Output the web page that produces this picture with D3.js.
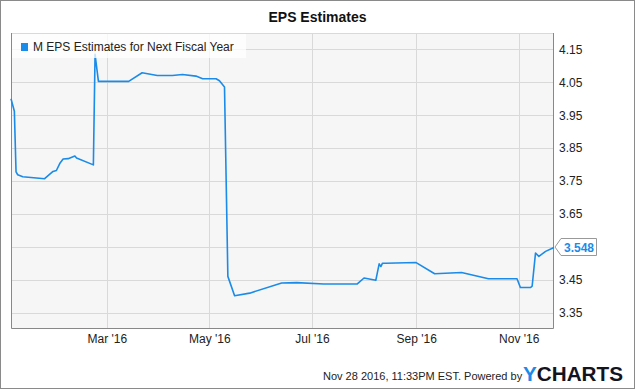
<!DOCTYPE html>
<html>
<head>
<meta charset="utf-8">
<script src="https://cdn.jsdelivr.net/npm/d3@7"></script>
<style>
  body { margin: 0; background: #fff; }
  svg { display: block; font-family: "Liberation Sans", Arial, sans-serif; }
</style>
</head>
<body>
<svg id="chart" width="635" height="389"></svg>
<script>
  // EPS estimate history
  var dates = ['2016-01-04', '2016-01-06', '2016-01-07', '2016-01-08', '2016-01-11', '2016-01-24',
               '2016-01-29', '2016-01-31', '2016-02-02', '2016-02-04', '2016-02-07', '2016-02-11',
               '2016-02-12', '2016-02-22', '2016-02-23', '2016-02-25', '2016-03-14', '2016-03-22',
               '2016-03-31', '2016-04-09', '2016-04-15', '2016-04-23', '2016-04-27', '2016-05-05',
               '2016-05-07', '2016-05-10', '2016-05-12', '2016-05-16', '2016-05-25', '2016-06-13',
               '2016-06-22', '2016-07-08', '2016-07-28', '2016-08-01', '2016-08-08', '2016-08-10',
               '2016-08-11', '2016-08-12', '2016-08-14', '2016-09-01', '2016-09-12', '2016-09-28',
               '2016-10-14', '2016-10-31', '2016-11-02', '2016-11-08', '2016-11-09', '2016-11-11',
               '2016-11-13', '2016-11-17', '2016-11-22']
  var values = [4.000, 3.962, 3.778, 3.769, 3.763, 3.757,
                3.779, 3.782, 3.803, 3.817, 3.818, 3.826,
                3.820, 3.799, 4.135, 4.053, 4.053, 4.079,
                4.071, 4.071, 4.074, 4.069, 4.061, 4.061,
                4.055, 4.036, 3.460, 3.401, 3.409, 3.440,
                3.441, 3.437, 3.437, 3.455, 3.448, 3.498,
                3.490, 3.500, 3.500, 3.502, 3.468, 3.472,
                3.453, 3.453, 3.426, 3.426, 3.430, 3.531,
                3.521, 3.536, 3.548]

  var yTicks = [3.35, 3.45, 3.55, 3.65, 3.75, 3.85, 3.95, 4.05, 4.15]
  var xTicks = ['2016-03-01', '2016-05-01', '2016-07-01', '2016-09-01', '2016-11-01']
  var seriesName = 'M EPS Estimates for Next Fiscal Year'
  var title = 'EPS Estimates'
  var footer = 'Nov 28 2016, 11:33PM EST.  Powered by'

  var parse = d3.timeParse('%Y-%m-%d')
  var data = dates.map(function(d, i) { return { date: parse(d), value: values[i] } })

  var lineColour = '#1a8be8'
  var margins = { top: 33, left: 11, right: 81, bottom: 60 },
      W = 635, H = 389,
      width = W - margins.left - margins.right,
      height = H - margins.top - margins.bottom

  var svg = d3.select('#chart')

  // outer frame
  svg.append('rect')
      .attr('x', 0.5).attr('y', 0.5)
      .attr('width', W - 1).attr('height', H - 1)
      .attr('fill', '#fff').attr('stroke', '#8a8a8a')

  svg.append('text')
      .attr('x', W / 2).attr('y', 22)
      .attr('text-anchor', 'middle')
      .attr('font-size', 14).attr('font-weight', 'bold')
      .attr('fill', '#111')
      .text(title)

  var x = d3.scaleTime()
      .domain([parse('2016-01-04'), parse('2016-11-22')])
      .range([0, width])
  var y = d3.scaleLinear()
      .domain([3.3, 4.2])
      .range([height, 0])

  var last = data[data.length - 1]
  var ly = y(last.value)

  var g = svg.append('g')
      .attr('transform', 'translate(' + margins.left + ',' + margins.top + ')')

  g.append('rect')
      .attr('width', width).attr('height', height)
      .attr('fill', '#f6f6f6')

  // grid
  g.selectAll('.hgrid').data(yTicks).enter().append('line')
      .attr('x1', 0).attr('x2', width)
      .attr('y1', function(d) { return Math.round(y(d)) + 0.5 })
      .attr('y2', function(d) { return Math.round(y(d)) + 0.5 })
      .attr('stroke', '#d9d9d9')
  g.selectAll('.vgrid').data(xTicks.map(parse)).enter().append('line')
      .attr('y1', 0).attr('y2', height)
      .attr('x1', function(d) { return Math.round(x(d)) + 0.5 })
      .attr('x2', function(d) { return Math.round(x(d)) + 0.5 })
      .attr('stroke', '#d9d9d9')

  // frame of the plot
  g.append('line').attr('x1', 0).attr('x2', width).attr('y1', 0.5).attr('y2', 0.5).attr('stroke', '#d9d9d9')
  g.append('path')
      .attr('d', 'M0.5,0V' + (height - 0.5) + 'H' + (width - 0.5) + 'V0')
      .attr('fill', 'none').attr('stroke', '#888')

  var line = d3.line()
      .x(function(d) { return x(d.date) })
      .y(function(d) { return y(d.value) })

  g.append('path')
      .datum(data)
      .attr('d', line)
      .attr('fill', 'none')
      .attr('stroke', lineColour)
      .attr('stroke-width', 1.6)
      .attr('stroke-linejoin', 'round')

  // axes (the label hidden under the last value tag is dropped)
  var yAxis = d3.axisRight(y).tickValues(yTicks).tickSize(0).tickPadding(5)
      .tickFormat(d3.format('.2f'))
  g.append('g')
      .attr('transform', 'translate(' + width + ',0)')
      .call(yAxis)
      .call(function(s) { s.select('.domain').remove() })
      .selectAll('text')
      .attr('font-size', 12).attr('fill', '#222')
      .attr('font-family', '"Liberation Sans", Arial, sans-serif')
      .filter(function(d) { return Math.abs(y(d) - ly) < 12 })
      .remove()

  var xAxis = d3.axisBottom(x).tickValues(xTicks.map(parse)).tickSize(0).tickPadding(5)
      .tickFormat(d3.timeFormat("%b '%y"))
  g.append('g')
      .attr('transform', 'translate(0,' + height + ')')
      .call(xAxis)
      .call(function(s) { s.select('.domain').remove() })
      .selectAll('text')
      .attr('font-size', 12).attr('fill', '#222')
      .attr('font-family', '"Liberation Sans", Arial, sans-serif')

  // legend
  var legend = g.append('g')
  legend.append('rect')
      .attr('x', 1).attr('y', 1).attr('width', 234).attr('height', 24)
      .attr('fill', '#fff').attr('fill-opacity', 0.75)
  legend.append('rect')
      .attr('x', 10).attr('y', 10).attr('width', 7).attr('height', 8)
      .attr('fill', lineColour)
  legend.append('text')
      .attr('x', 22).attr('y', 18)
      .attr('font-size', 12).attr('fill', '#222')
      .text(seriesName)

  // last value tag
  var tag = g.append('g').attr('transform', 'translate(' + (width + 1) + ',' + Math.round(ly) + ')')
  tag.append('path')
      .attr('d', 'M0,0L6,-8.5H41.5V8.5H6Z')
      .attr('fill', '#fff').attr('stroke', '#999')
  tag.append('text')
      .attr('x', 9).attr('y', 4.5)
      .attr('font-size', 12).attr('font-weight', 'bold')
      .attr('fill', lineColour)
      .text(d3.format('.3f')(last.value))

  // footer
  svg.append('text')
      .attr('x', 323).attr('y', 380)
      .attr('font-size', 11).attr('fill', '#222')
      .text(footer)
  var logo = svg.append('text')
      .attr('x', 523).attr('y', 381)
      .attr('font-size', 21).attr('font-weight', 'bold')
      .attr('textLength', 100).attr('lengthAdjust', 'spacingAndGlyphs')
  logo.append('tspan').attr('fill', lineColour).text('Y')
  logo.append('tspan').attr('fill', '#14141f').text('CHARTS')
</script>
</body>
</html>
